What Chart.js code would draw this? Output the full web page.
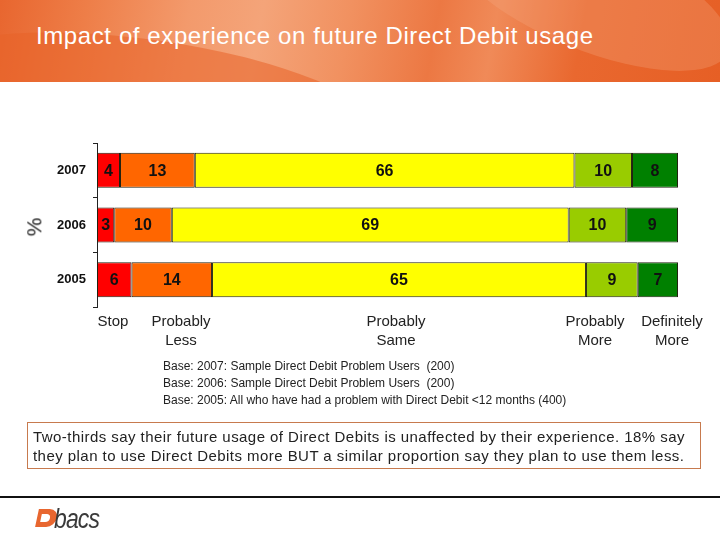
<!DOCTYPE html>
<html><head><meta charset="utf-8">
<script src="https://cdn.jsdelivr.net/npm/chart.js@4"></script>
<style>
html,body{margin:0;padding:0;background:#fff;}
#page{position:relative;width:720px;height:540px;overflow:hidden;font-family:"Liberation Sans",Arial,sans-serif;}
#hdr{position:absolute;left:0;top:0;width:720px;height:82px;overflow:hidden;
background:linear-gradient(100deg,#e8662f 0%,#ee7e48 12%,#f39a6c 26%,#f4a479 36%,#f19160 48%,#ec7843 60%,#f08a58 68%,#e9682f 80%,#e65f25 100%);}
#hdr .sw1{position:absolute;left:-80px;top:40px;width:460px;height:120px;border-radius:50%;background:rgba(232,98,40,0.55);transform:rotate(8deg);}
#hdr .sw2{position:absolute;left:440px;top:-60px;width:300px;height:110px;border-radius:50%;background:rgba(246,170,130,0.30);transform:rotate(22deg);}
#title{position:absolute;left:36px;top:22px;color:#fff;font-size:24px;letter-spacing:0.6px;white-space:nowrap;}
#c{position:absolute;left:0;top:0;}
.cat{position:absolute;top:311px;font-size:15px;color:#222;text-align:center;line-height:19px;transform:translateX(-50%);white-space:nowrap;}
#pct{position:absolute;left:25px;top:215px;font-size:21px;color:#222;transform:rotate(-90deg);transform-origin:center;}
.base{position:absolute;left:163px;font-size:12px;color:#222;white-space:nowrap;}
#box{position:absolute;left:27px;top:422px;border:1px solid #c77a4e;font-size:15px;color:#222;line-height:19px;padding:4px 0 0 5px;box-sizing:border-box;height:47px;width:674px;letter-spacing:0.45px;white-space:nowrap;}
#rule{position:absolute;left:0;top:496px;width:720px;height:2px;background:#111;}
#logo{position:absolute;left:37px;top:504px;height:28px;}
#logo .d{position:absolute;left:0;top:5px;width:20px;height:18px;background:#e8662f;border-radius:0 10px 10px 0;transform:skewX(-12deg);}
#logo .d2{position:absolute;left:4px;top:10px;width:9px;height:8px;background:#fff;border-radius:0 5px 5px 0;transform:skewX(-12deg);}
#logo .t{position:absolute;left:17px;top:0px;font-size:27px;color:#3a3a3a;font-style:italic;letter-spacing:-1px;transform:scaleX(0.85);transform-origin:left;}
</style></head>
<body><div id="page">
<div id="hdr"><div class="sw1"></div><div class="sw2"></div></div>
<div id="title">Impact of experience on future Direct Debit usage</div>
<canvas id="c" width="720" height="540"></canvas>
<div id="pct">%</div>
<div id="cats"></div>
<div class="base" style="top:359px">Base: 2007: Sample Direct Debit Problem Users&nbsp; (200)</div>
<div class="base" style="top:376px">Base: 2006: Sample Direct Debit Problem Users&nbsp; (200)</div>
<div class="base" style="top:393px">Base: 2005: All who have had a problem with Direct Debit &lt;12 months (400)</div>
<div id="box">Two-thirds say their future usage of Direct Debits is unaffected by their experience. 18% say<br>they plan to use Direct Debits more BUT a similar proportion say they plan to use them less.</div>
<div id="rule"></div>
<div id="logo"><div class="d"></div><div class="d2"></div><div class="t">bacs</div></div>
</div>
<script>
// ---- data ----
const years = ["2007", "2006", "2005"];
const responses = ["Stop", "Probably Less", "Probably Same", "Probably More", "Definitely More"];
const stopVals = [4, 3, 6];
const lessVals = [13, 10, 14];
const sameVals = [66, 69, 65];
const moreVals = [10, 10, 9];
const defMoreVals = [8, 9, 7];

// ---- layout / style ----
const colors = ["#ff0000", "#ff6600", "#ffff00", "#99cc00", "#008000"];
const catLabelX = [113, 181, 396, 595, 672];
const series = [stopVals, lessVals, sameVals, moreVals, defMoreVals];

const catDiv = document.getElementById('cats');
responses.forEach((r, i) => {
  const d = document.createElement('div');
  d.className = 'cat';
  d.style.left = catLabelX[i] + 'px';
  d.innerHTML = r.split(' ').join('<br>');
  catDiv.appendChild(d);
});

const valueLabels = {
  id: 'valueLabels',
  afterDatasetsDraw(chart) {
    const ctx = chart.ctx;
    ctx.save();
    ctx.font = 'bold 16px "Liberation Sans", Arial, sans-serif';
    ctx.fillStyle = '#111';
    ctx.textAlign = 'center';
    ctx.textBaseline = 'middle';
    chart.data.datasets.forEach((ds, di) => {
      chart.getDatasetMeta(di).data.forEach((bar, i) => {
        const cx = (bar.x + bar.base) / 2;
        ctx.fillText(String(ds.data[i]), cx, bar.y + 1);
      });
    });
    ctx.restore();
  }
};

new Chart(document.getElementById('c'), {
  type: 'bar',
  data: {
    labels: years,
    datasets: responses.map((r, i) => ({
      label: r,
      data: series[i],
      backgroundColor: colors[i],
      borderColor: '#222210',
      borderWidth: 1,
      borderSkipped: false
    }))
  },
  options: {
    indexAxis: 'y',
    responsive: false,
    animation: false,
    devicePixelRatio: 1,
    layout: { padding: { left: 0, right: 42, top: 143, bottom: 233 } },
    plugins: { legend: { display: false }, tooltip: { enabled: false } },
    datasets: { bar: { barPercentage: 1, categoryPercentage: 0.64 } },
    scales: {
      x: { stacked: true, min: 0, max: 101, display: false },
      y: {
        stacked: true,
        afterFit: (s) => { s.width = 97; },
        grid: { drawOnChartArea: false, offset: true, tickLength: 4, color: '#222' },
        border: { display: true, color: '#222', width: 1 },
        ticks: { padding: 7, color: '#111', font: { family: '"Liberation Sans", Arial, sans-serif', size: 13, weight: 'bold' } }
      }
    }
  },
  plugins: [valueLabels]
});
</script>
</body></html>
